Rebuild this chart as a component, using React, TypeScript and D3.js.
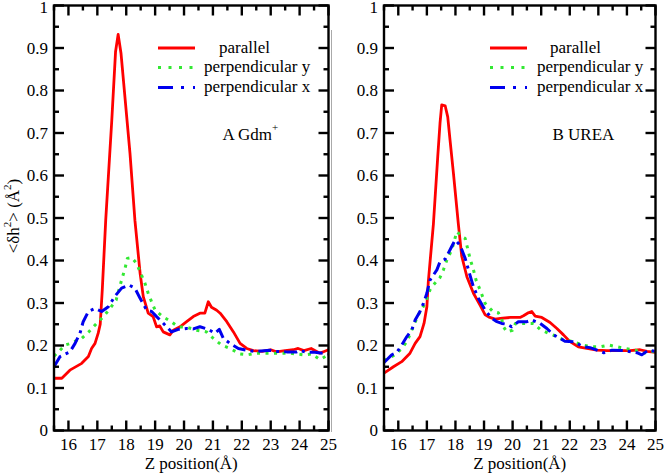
import React from "react";
import * as d3 from "d3";

// ---- data: [Z position (Å), <δh²> (Å²)] ----
const leftParallel: [number, number][] = [
  [15.5, 0.123], [15.77, 0.123], [16.05, 0.142], [16.46, 0.158], [16.69, 0.174], [16.8, 0.193],
  [16.92, 0.205], [17.03, 0.229], [17.1, 0.25], [17.17, 0.33], [17.29, 0.495], [17.5, 0.73],
  [17.63, 0.891], [17.72, 0.932], [17.82, 0.887], [18.13, 0.652], [18.3, 0.495], [18.48, 0.37],
  [18.59, 0.315], [18.76, 0.276], [18.93, 0.268], [19.05, 0.244], [19.16, 0.246], [19.28, 0.232],
  [19.51, 0.225], [19.63, 0.236], [19.86, 0.244], [20.09, 0.256], [20.32, 0.268], [20.55, 0.276],
  [20.72, 0.276], [20.84, 0.303], [20.95, 0.29], [21.13, 0.283], [21.25, 0.276], [21.48, 0.256],
  [21.71, 0.232], [21.94, 0.205], [22.17, 0.193], [22.4, 0.188], [22.7, 0.186], [23.0, 0.19],
  [23.2, 0.185], [23.5, 0.188], [23.78, 0.19], [23.95, 0.193], [24.15, 0.188], [24.4, 0.193],
  [24.7, 0.182], [24.85, 0.186], [25.0, 0.19],
];
const leftPerpY: [number, number][] = [
  [15.5, 0.175], [15.71, 0.189], [15.88, 0.201], [16.08, 0.205], [16.46, 0.217], [16.69, 0.231],
  [16.92, 0.248], [17.21, 0.268], [17.44, 0.287], [17.65, 0.307], [17.84, 0.354], [17.96, 0.382],
  [18.04, 0.405], [18.19, 0.407], [18.36, 0.393], [18.5, 0.37], [18.65, 0.346], [18.76, 0.323],
  [18.9, 0.299], [19.0, 0.283], [19.26, 0.268], [19.51, 0.258], [19.8, 0.244], [20.09, 0.243],
  [20.44, 0.236], [20.78, 0.232], [21.01, 0.217], [21.3, 0.201], [21.59, 0.193], [21.94, 0.18],
  [22.2, 0.178], [22.5, 0.182], [23.2, 0.182], [23.66, 0.182], [24.13, 0.178], [24.42, 0.18],
  [24.7, 0.167], [25.0, 0.178],
];
const leftPerpX: [number, number][] = [
  [15.5, 0.15], [15.71, 0.174], [16.05, 0.185], [16.23, 0.205], [16.4, 0.229], [16.51, 0.256],
  [16.69, 0.28], [16.92, 0.287], [17.15, 0.28], [17.38, 0.291], [17.61, 0.316], [17.84, 0.335],
  [18.1, 0.342], [18.3, 0.335], [18.48, 0.311], [18.71, 0.283], [18.88, 0.28], [19.05, 0.268],
  [19.23, 0.256], [19.4, 0.244], [19.57, 0.232], [19.8, 0.238], [20.09, 0.24], [20.32, 0.239],
  [20.55, 0.244], [20.84, 0.238], [21.07, 0.229], [21.22, 0.238], [21.36, 0.217], [21.61, 0.204],
  [21.88, 0.193], [22.22, 0.188], [22.5, 0.186], [22.97, 0.189], [23.14, 0.186], [23.55, 0.185],
  [23.9, 0.185], [24.0, 0.188], [24.25, 0.184], [24.53, 0.184], [24.8, 0.182], [25.0, 0.18],
];
const rightParallel: [number, number][] = [
  [15.5, 0.135], [15.83, 0.15], [16.12, 0.162], [16.41, 0.182], [16.59, 0.205], [16.76, 0.221],
  [16.9, 0.252], [17.0, 0.291], [17.05, 0.35], [17.23, 0.487], [17.38, 0.644], [17.46, 0.723],
  [17.52, 0.766], [17.64, 0.764], [17.73, 0.738], [17.81, 0.684], [17.93, 0.605], [18.1, 0.487],
  [18.22, 0.41], [18.4, 0.362], [18.63, 0.323], [18.86, 0.295], [19.04, 0.272], [19.2, 0.266],
  [19.39, 0.262], [19.57, 0.264], [19.92, 0.266], [20.26, 0.266], [20.38, 0.27], [20.55, 0.277],
  [20.67, 0.28], [20.79, 0.269], [21.02, 0.266], [21.31, 0.254], [21.55, 0.24], [21.78, 0.225],
  [22.01, 0.209], [22.3, 0.197], [22.6, 0.193], [22.95, 0.189], [23.3, 0.188], [23.65, 0.188],
  [24.11, 0.188], [24.46, 0.19], [24.7, 0.186], [25.0, 0.184],
];
const rightPerpY: [number, number][] = [
  [15.5, 0.165], [15.65, 0.17], [15.89, 0.178], [16.12, 0.193], [16.3, 0.209], [16.47, 0.236],
  [16.7, 0.272], [16.94, 0.299], [17.11, 0.331], [17.2, 0.34], [17.46, 0.36], [17.58, 0.378],
  [17.7, 0.401], [17.87, 0.425], [18.05, 0.468], [18.22, 0.456], [18.34, 0.452], [18.51, 0.405],
  [18.63, 0.378], [18.72, 0.354], [18.86, 0.331], [19.04, 0.299], [19.31, 0.28], [19.5, 0.277],
  [19.62, 0.262], [19.68, 0.244], [19.8, 0.232], [20.0, 0.236], [20.1, 0.252], [20.35, 0.252],
  [20.73, 0.252], [20.96, 0.238], [21.25, 0.229], [21.55, 0.221], [21.78, 0.213], [22.13, 0.209],
  [22.44, 0.201], [22.77, 0.197], [23.07, 0.197], [23.36, 0.201], [23.65, 0.197], [23.94, 0.193],
  [24.29, 0.189], [24.58, 0.182], [24.87, 0.186], [25.0, 0.185],
];
const rightPerpX: [number, number][] = [
  [15.5, 0.16], [15.77, 0.178], [15.94, 0.183], [16.12, 0.201], [16.3, 0.221], [16.47, 0.236],
  [16.59, 0.26], [16.76, 0.28], [16.88, 0.299], [17.0, 0.323], [17.11, 0.354], [17.35, 0.378],
  [17.46, 0.397], [17.64, 0.403], [17.87, 0.433], [17.99, 0.448], [18.16, 0.436], [18.34, 0.405],
  [18.49, 0.37], [18.63, 0.338], [18.8, 0.311], [19.04, 0.283], [19.27, 0.264], [19.45, 0.256],
  [19.62, 0.252], [19.8, 0.25], [19.97, 0.244], [20.2, 0.256], [20.5, 0.256], [20.67, 0.26],
  [20.96, 0.252], [21.2, 0.24], [21.43, 0.225], [21.66, 0.217], [21.83, 0.21], [22.13, 0.209],
  [22.48, 0.197], [22.71, 0.195], [23.19, 0.183], [23.48, 0.189], [23.88, 0.188], [24.35, 0.183],
  [24.52, 0.178], [24.75, 0.189], [25.0, 0.186],
];

const seriesNames = ["parallel", "perpendicular y", "perpendicular x"];
const xMajorTicks = [16, 17, 18, 19, 20, 21, 22, 23, 24, 25];
const yMajorTicks = [0, 0.1, 0.2, 0.3, 0.4, 0.5, 0.6, 0.7, 0.8, 0.9, 1];
const yTickLabels = ["0", "0.1", "0.2", "0.3", "0.4", "0.5", "0.6", "0.7", "0.8", "0.9", "1"];

const RED = "#ff0000";
const GREEN = "#33e833";
const BLUE = "#0000ee";
const FONT = "'Liberation Serif', 'DejaVu Serif', serif";

const styles = [
  { stroke: RED, width: 2.8, dash: undefined as string | undefined, legendDash: undefined as string | undefined },
  { stroke: GREEN, width: 3, dash: "3 5.5", legendDash: "3 7.5" },
  { stroke: BLUE, width: 3, dash: "13 5 3 5", legendDash: "15 8 3 9 3 20" },
];

type PanelProps = {
  id: string;
  left: number;
  right: number;
  series: [number, number][][];
  legendLineX: number;
  legendTextX: number[];
  label: React.ReactNode;
  labelX: number;
};

const TOP = 5.5;
const BOTTOM = 430.5;

function Panel({ id, left, right, series, legendLineX, legendTextX, label, labelX }: PanelProps) {
  const x = d3.scaleLinear().domain([15.5, 25]).range([left, right]);
  const y = d3.scaleLinear().domain([0, 1]).range([BOTTOM, TOP]);
  const line = d3
    .line<[number, number]>()
    .x((d) => x(d[0]))
    .y((d) => y(d[1]))
    .curve(d3.curveLinear);

  const xMinor = d3.range(15.5, 25.01, 0.5).filter((v) => Math.abs(v - Math.round(v)) > 0.01);
  const yMinor = d3.range(0.05, 1, 0.1);
  const tk = { stroke: "#000", strokeWidth: 2.4 };
  const major = 10;
  const minor = 5;
  const legendY = [48, 67.5, 87.5];

  return (
    <g>
      <defs>
        <clipPath id={`clip-${id}`}>
          <rect x={left} y={TOP} width={right - left} height={BOTTOM - TOP} />
        </clipPath>
      </defs>
      <g clipPath={`url(#clip-${id})`}>
        {series.map((s, i) => (
          <path
            key={i}
            d={line(s) || ""}
            fill="none"
            stroke={styles[i].stroke}
            strokeWidth={styles[i].width}
            strokeDasharray={styles[i].dash}
            strokeLinejoin="round"
          />
        ))}
      </g>
      {/* ticks */}
      {xMajorTicks.map((t) => (
        <g key={`xm${t}`}>
          <line x1={x(t)} x2={x(t)} y1={BOTTOM} y2={BOTTOM - major} {...tk} />
          <line x1={x(t)} x2={x(t)} y1={TOP} y2={TOP + major} {...tk} />
          <text x={x(t)} y={450} textAnchor="middle" fontSize={17} fontFamily={FONT}>
            {t}
          </text>
        </g>
      ))}
      {xMinor.map((t) => (
        <g key={`xn${t}`}>
          <line x1={x(t)} x2={x(t)} y1={BOTTOM} y2={BOTTOM - minor} {...tk} />
          <line x1={x(t)} x2={x(t)} y1={TOP} y2={TOP + minor} {...tk} />
        </g>
      ))}
      {yMajorTicks.map((t, i) => (
        <g key={`ym${t}`}>
          <line x1={left} x2={left + major} y1={y(t)} y2={y(t)} {...tk} />
          <line x1={right} x2={right - major} y1={y(t)} y2={y(t)} {...tk} />
          <text
            x={left - 6}
            y={Math.max(y(t), 7.5)}
            dy="0.35em"
            textAnchor="end"
            fontSize={17}
            fontFamily={FONT}
          >
            {yTickLabels[i]}
          </text>
        </g>
      ))}
      {yMinor.map((t) => (
        <g key={`yn${t}`}>
          <line x1={left} x2={left + minor} y1={y(t)} y2={y(t)} {...tk} />
          <line x1={right} x2={right - minor} y1={y(t)} y2={y(t)} {...tk} />
        </g>
      ))}
      <rect x={left} y={TOP} width={right - left} height={BOTTOM - TOP} fill="none" stroke="#000" strokeWidth={2.4} />
      {/* legend */}
      {seriesNames.map((n, i) => (
        <g key={n}>
          <line
            x1={legendLineX}
            x2={legendLineX + 37}
            y1={legendY[i]}
            y2={legendY[i]}
            stroke={styles[i].stroke}
            strokeWidth={3}
            strokeDasharray={styles[i].legendDash}
          />
          <text x={legendTextX[i]} y={legendY[i] + 4.5} fontSize={17} fontFamily={FONT}>
            {n}
          </text>
        </g>
      ))}
      <text x={labelX} y={140} fontSize={17} fontFamily={FONT}>
        {label}
      </text>
      <text x={(left + right) / 2} y={469} textAnchor="middle" fontSize={17} fontFamily={FONT}>
        Z position(Å)
      </text>
    </g>
  );
}

export default function App() {
  return (
    <svg width={666} height={475} style={{ display: "block", position: "absolute", left: 0, top: 0, background: "#fff" }}>
      <rect width={666} height={475} fill="#fff" />
      <line x1={331.5} x2={331.5} y1={30} y2={432} stroke="#aaa" strokeWidth={1} />
      <Panel
        id="a"
        left={54}
        right={328.5}
        series={[leftParallel, leftPerpY, leftPerpX]}
        legendLineX={158}
        legendTextX={[219, 204, 204]}
        label={
          <>
            A Gdm
            <tspan fontSize={11} dy={-9}>+</tspan>
          </>
        }
        labelX={222.5}
      />
      <Panel
        id="b"
        left={384}
        right={655.5}
        series={[rightParallel, rightPerpY, rightPerpX]}
        legendLineX={490}
        legendTextX={[550, 537, 537]}
        label={<>B UREA</>}
        labelX={552.5}
      />
      <text transform="translate(19,216) rotate(-90)" textAnchor="middle" fontSize={17} fontFamily={FONT}>
        {"<δh"}
        <tspan fontSize={11} dy={-8}>2</tspan>
        <tspan dy={8}>{"> (Å"}</tspan>
        <tspan fontSize={11} dy={-8}>2</tspan>
        <tspan dy={8}>)</tspan>
      </text>
    </svg>
  );
}
